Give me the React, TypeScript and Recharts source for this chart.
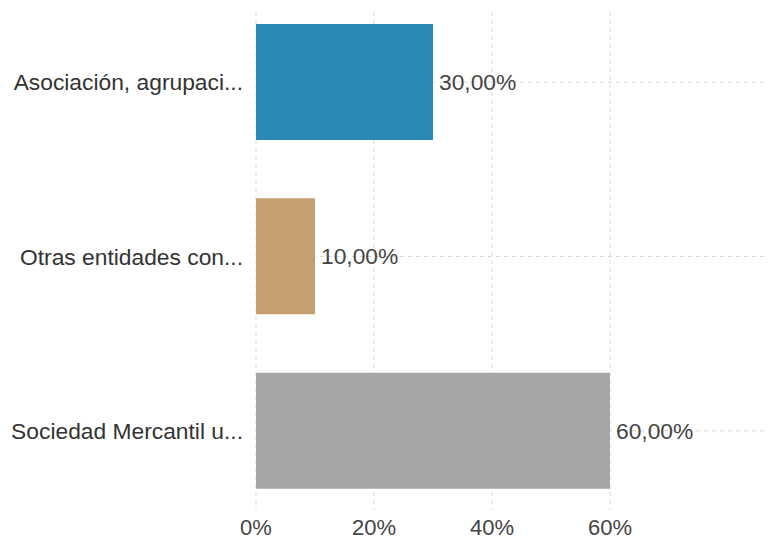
import { BarChart, Bar, XAxis, YAxis, CartesianGrid, Cell, LabelList } from 'recharts'

const categorias = ['Asociación, agrupaci...', 'Otras entidades con...', 'Sociedad Mercantil u...']
const porcentajes = [30, 10, 60]
const ticksX = [0, 20, 40, 60]

const colores = ['#2a8ab5', '#c59f70', '#a6a6a6']

const data = categorias.map((c, i) => ({ categoria: c, valor: porcentajes[i] }))

const fmt = (v: any) => `${Number(v).toFixed(2).replace('.', ',')}%`

export default function App() {
  const font = '"Liberation Sans", Arial, sans-serif'
  return (
    <div style={{ position: 'absolute', left: 0, top: 0, background: '#fff' }}>
      <BarChart
        width={772}
        height={541}
        data={data}
        layout="vertical"
        margin={{ top: 12, right: 6, bottom: 0, left: 0 }}
        style={{ fontFamily: font }}
      >
        {/* syncWithTicks: sin lineas extra en los bordes del area */}
        <CartesianGrid stroke="#d9d9d9" strokeDasharray="4 4" syncWithTicks />
        <XAxis
          type="number"
          domain={[0, 60]}
          ticks={ticksX}
          tickFormatter={v => `${v}%`}
          axisLine={false}
          tickLine={false}
          tickSize={0}
          tickMargin={9}
          height={31}
          padding={{ left: 0, right: 156 }}
          tick={{ fill: '#444', fontSize: 22 }}
        />
        <YAxis
          type="category"
          dataKey="categoria"
          width={256}
          axisLine={false}
          tickLine={false}
          tickSize={0}
          tickMargin={13}
          padding={{ top: -17, bottom: -8 }}
          tick={{ fill: '#333', fontSize: 22.8 }}
        />
        <Bar dataKey="valor" barSize={116} isAnimationActive={false}>
          {data.map((d, i) => <Cell key={d.categoria} fill={colores[i]} />)}
          <LabelList dataKey="valor" position="right" offset={6} formatter={fmt} fill="#444" fontSize={22.8} />
        </Bar>
      </BarChart>
    </div>
  )
}
